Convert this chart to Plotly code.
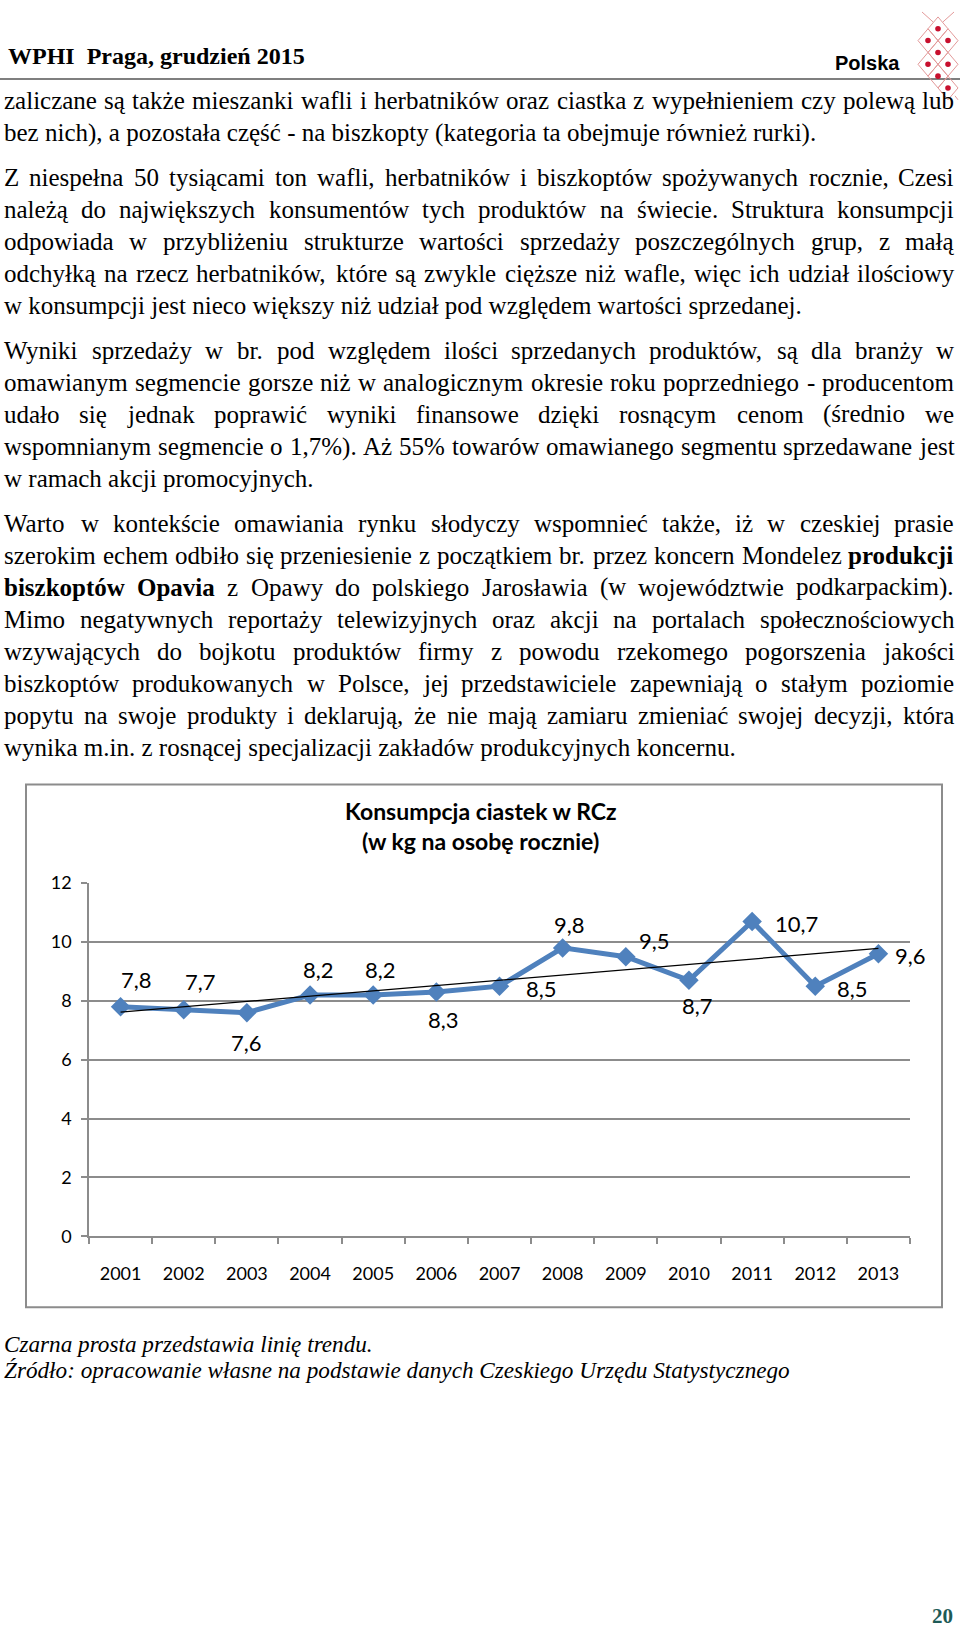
import numpy as np
import plotly.graph_objects as go

# ---------------- data ----------------
years = ["2001", "2002", "2003", "2004", "2005", "2006", "2007",
         "2008", "2009", "2010", "2011", "2012", "2013"]
consumption = [7.8, 7.7, 7.6, 8.2, 8.2, 8.3, 8.5, 9.8, 9.5, 8.7, 10.7, 8.5, 9.6]
value_labels = ["7,8", "7,7", "7,6", "8,2", "8,2", "8,3", "8,5",
                "9,8", "9,5", "8,7", "10,7", "8,5", "9,6"]
y_ticks = [0, 2, 4, 6, 8, 10, 12]

chart_title = ["Konsumpcja ciastek w RCz", "(w kg na osobę rocznie)"]
header_text = "WPHI\u00a0\u00a0Praga, grudzień 2015"
logo_text = "Polska"
page_number = "20"

paragraphs = [
    ["zaliczane są także mieszanki wafli i herbatników oraz ciastka z wypełnieniem czy polewą lub",
     "bez nich), a pozostała część - na biszkopty (kategoria ta obejmuje również rurki)."],
    ["Z niespełna 50 tysiącami ton wafli, herbatników i biszkoptów spożywanych rocznie, Czesi",
     "należą do największych konsumentów tych produktów na świecie. Struktura konsumpcji",
     "odpowiada w przybliżeniu strukturze wartości sprzedaży poszczególnych grup, z małą",
     "odchyłką na rzecz herbatników, które są zwykle cięższe niż wafle, więc ich udział ilościowy",
     "w konsumpcji jest nieco większy niż udział pod względem wartości sprzedanej."],
    ["Wyniki sprzedaży w br. pod względem ilości sprzedanych produktów, są dla branży w",
     "omawianym segmencie gorsze niż w analogicznym okresie roku poprzedniego - producentom",
     "udało się jednak poprawić wyniki finansowe dzięki rosnącym cenom (średnio we",
     "wspomnianym segmencie o 1,7%). Aż 55% towarów omawianego segmentu sprzedawane jest",
     "w ramach akcji promocyjnych."],
    ["Warto w kontekście omawiania rynku słodyczy wspomnieć także, iż w czeskiej prasie",
     "szerokim echem odbiło się przeniesienie z początkiem br. przez koncern Mondelez *produkcji*",
     "*biszkoptów* *Opavia* z Opawy do polskiego Jarosławia (w województwie podkarpackim).",
     "Mimo negatywnych reportaży telewizyjnych oraz akcji na portalach społecznościowych",
     "wzywających do bojkotu produktów firmy z powodu rzekomego pogorszenia jakości",
     "biszkoptów produkowanych w Polsce, jej przedstawiciele zapewniają o stałym poziomie",
     "popytu na swoje produkty i deklarują, że nie mają zamiaru zmieniać swojej decyzji, która",
     "wynika m.in. z rosnącej specjalizacji zakładów produkcyjnych koncernu."],
]
captions = ["Czarna prosta przedstawia linię trendu.",
            "Źródło: opracowanie własne na podstawie danych Czeskiego Urzędu Statystycznego"]

# ---------------- layout constants ----------------
W, H = 960, 1637
BLUE = "#4F81BD"
GRID = "#8C8C8C"
SERIF = "Liberation Serif"
SANS = "Lato"

# label offsets (pixels, y up) relative to each point
label_dx = [16, 17, 0, 8, 7, 7, 42, 7, 29, 9, 44, 37, 32]
label_dy = [27, 28, -30, 25, 25, -27, -2, 23, 16, -25, -2, -2, -2]

# Times (Liberation Serif) advance widths, 1/1000 em
TIMES = dict(zip("abcdefghijklmnopqrstuvwxyz",
                 [444, 500, 444, 500, 444, 333, 500, 500, 278, 278, 500, 278, 778,
                  500, 500, 500, 500, 333, 389, 278, 500, 500, 722, 500, 500, 444]))
TIMES.update(zip("ABCDEFGHIJKLMNOPQRSTUVWXYZ",
                 [722, 667, 667, 722, 611, 556, 722, 722, 333, 389, 722, 611, 889,
                  722, 722, 556, 722, 667, 556, 611, 722, 722, 944, 722, 722, 611]))
TIMES.update({c: 500 for c in "0123456789"})
TIMES.update({" ": 250, ",": 250, ".": 250, "-": 333, "(": 333, ")": 333,
              "%": 833, ":": 278, "ą": 444, "ć": 444, "ę": 444, "ł": 278,
              "ń": 500, "ó": 500, "ś": 389, "ź": 444, "ż": 444, "Ż": 611, "Ś": 556})
TIMES_B = dict(zip("abcdefghijklmnopqrstuvwxyz",
                   [500, 556, 444, 556, 444, 333, 500, 556, 278, 333, 556, 278, 833,
                    556, 500, 556, 556, 444, 389, 333, 556, 500, 722, 500, 500, 444]))
TIMES_B.update({"ó": 500, "O": 778})


def word_width(w, fs, bold):
    tab = TIMES_B if bold else TIMES
    return sum(tab.get(c, 500) for c in w) / 1000.0 * fs


def px(x):
    return x / W


def py(y):
    return 1 - y / H


annotations = []


def add_text(x, y, text, size, family, color="#000000", xanchor="left",
             yanchor="middle"):
    annotations.append(dict(
        x=px(x), y=py(y), xref="paper", yref="paper", text=text,
        showarrow=False, xanchor=xanchor, yanchor=yanchor,
        borderpad=0, borderwidth=0,
        font=dict(family=family, size=size, color=color)))


# ---------------- body text (justified) ----------------
FS = 25
LEFT, RIGHT = 4, 954
LINE = 32.55
PARA_GAP = 12.5
y = 90
for para in paragraphs:
    for i, line in enumerate(para):
        last = (i == len(para) - 1)
        if last:
            add_text(LEFT, y, line, FS, SERIF)
        else:
            items = []
            for w in line.split(" "):
                bold = w.startswith("*")
                ww = w.strip("*")
                items.append((ww, bold, word_width(ww, FS, bold)))
            total = sum(it[2] for it in items)
            gap = (RIGHT - LEFT - total) / (len(items) - 1)
            x = LEFT
            for ww, bold, wd in items:
                add_text(x, y, f"<b>{ww}</b>" if bold else ww, FS, SERIF)
                x += wd + gap
        y += LINE
    y += PARA_GAP

# ---------------- header / footer ----------------
add_text(8, 45, f"<b>{header_text}</b>", 24, SERIF)
add_text(835, 52, f"<b>{logo_text}</b>", 20, "Liberation Sans")
add_text(953, 1626, f"<b>{page_number}</b>", 21, SERIF, color="#1E5B57",
         xanchor="right")

add_text(4, 1350, f"<i>{captions[0]}</i>", 23.2, SERIF)
add_text(4, 1376, f"<i>{captions[1]}</i>", 23.2, SERIF)

# chart title
add_text(480, 810, f"<b>{chart_title[0]}</b>", 23, SANS, xanchor="center")
add_text(480, 840, f"<b>{chart_title[1]}</b>", 23, SANS, xanchor="center")

# data labels
for i, (v, lab, dx, dy) in enumerate(zip(consumption, value_labels, label_dx, label_dy)):
    annotations.append(dict(
        x=i, y=v, xref="x", yref="y", text=lab, showarrow=False,
        xshift=dx, yshift=dy, font=dict(family=SANS, size=22, color="#000000")))

# ---------------- shapes ----------------
shapes = []
shapes.append(dict(type="line", xref="paper", yref="paper",
                   x0=0, x1=1, y0=py(68), y1=py(68),
                   line=dict(color="#555555", width=1.5)))
shapes.append(dict(type="rect", xref="paper", yref="paper",
                   x0=px(26), x1=px(942), y0=py(1313), y1=py(783),
                   line=dict(color=GRID, width=2), fillcolor="rgba(0,0,0,0)"))

# logo lattice (decoration)
diamonds = [(938, 17), (928, 29), (948, 29), (938, 41), (928, 53),
            (948, 53), (938, 65), (948, 77)]
for (dxc, dyc) in diamonds:
    path = (f"M {px(dxc)},{py(dyc - 12)} L {px(dxc + 10)},{py(dyc)} "
            f"L {px(dxc)},{py(dyc + 12)} L {px(dxc - 10)},{py(dyc)} Z")
    shapes.append(dict(type="path", xref="paper", yref="paper", path=path,
                       line=dict(color="#E39A9A", width=1)))
    shapes.append(dict(type="circle", xref="paper", yref="paper",
                       x0=px(dxc - 2.8), x1=px(dxc + 2.8),
                       y0=py(dyc + 2.8), y1=py(dyc - 2.8),
                       line=dict(color="#C8102E", width=0), fillcolor="#C8102E"))
for (x0, y0, x1, y1) in [(922, 0, 933, 10), (954, 0, 943, 10), (955, 85, 958, 89)]:
    shapes.append(dict(type="line", xref="paper", yref="paper",
                       x0=px(x0), y0=py(y0), x1=px(x1), y1=py(y1),
                       line=dict(color="#E39A9A", width=1)))

# ---------------- traces ----------------
slope, intercept = np.polyfit(np.arange(len(consumption)), consumption, 1)
trend = [intercept, intercept + slope * (len(consumption) - 1)]

fig = go.Figure()
fig.add_trace(go.Scatter(
    x=years, y=consumption, mode="lines+markers",
    line=dict(color=BLUE, width=5),
    marker=dict(symbol="diamond", size=15, color=BLUE),
    showlegend=False, hoverinfo="skip"))
fig.add_trace(go.Scatter(
    x=[years[0], years[-1]], y=trend, mode="lines",
    line=dict(color="#000000", width=1.3),
    showlegend=False, hoverinfo="skip"))

fig.update_layout(
    width=W, height=H, margin=dict(l=0, r=0, t=0, b=0),
    paper_bgcolor="white", plot_bgcolor="white",
    annotations=annotations, shapes=shapes,
    xaxis=dict(type="category", domain=[px(89), px(910)],
               range=[-0.5, len(years) - 0.5],
               showline=True, linecolor=GRID, linewidth=1.5,
               ticks="outside", ticklen=6, tickcolor=GRID, tickwidth=1.5,
               tickson="boundaries", showgrid=False, zeroline=False,
               tickfont=dict(family=SANS, size=18, color="#000000"),
               ticklabelstandoff=20),
    yaxis=dict(domain=[py(1241), py(883)], range=[0, 12],
               tickvals=y_ticks, showgrid=True, gridcolor=GRID, gridwidth=1.5,
               showline=True, linecolor=GRID, linewidth=1.5,
               ticks="outside", ticklen=6, tickcolor=GRID, tickwidth=1.5,
               zeroline=False,
               tickfont=dict(family=SANS, size=18, color="#000000"),
               ticklabelstandoff=6),
)

fig.write_html(
    "out.html",
    config={"displayModeBar": False},
    post_script="document.body.style.margin='0px';"
                "document.body.style.overflow='hidden';")
